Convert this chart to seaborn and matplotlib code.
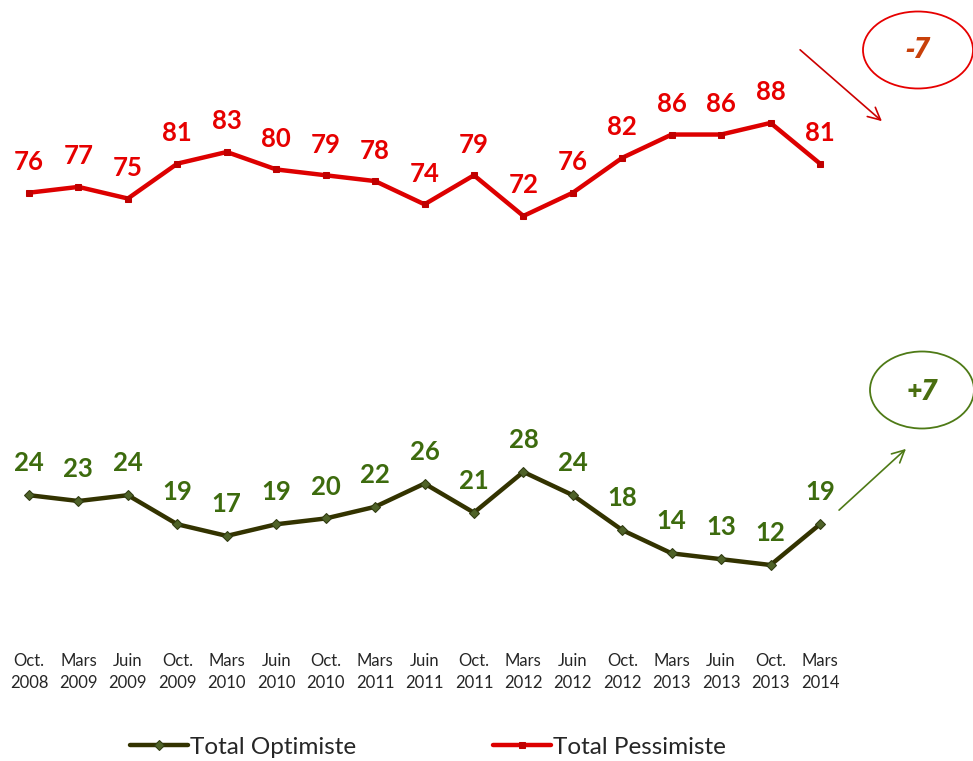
import pandas as pd
import numpy as np
import matplotlib.pyplot as plt
import seaborn as sns
from matplotlib.patches import Ellipse

# Survey waves and totals (in %)
periods = ["Oct.\n2008", "Mars\n2009", "Juin\n2009", "Oct.\n2009", "Mars\n2010", "Juin\n2010",
           "Oct.\n2010", "Mars\n2011", "Juin\n2011", "Oct.\n2011", "Mars\n2012", "Juin\n2012",
           "Oct.\n2012", "Mars\n2013", "Juin\n2013", "Oct.\n2013", "Mars\n2014"]
optimiste = [24, 23, 24, 19, 17, 19, 20, 22, 26, 21, 28, 24, 18, 14, 13, 12, 19]
pessimiste = [76, 77, 75, 81, 83, 80, 79, 78, 74, 79, 72, 76, 82, 86, 86, 88, 81]

df = pd.DataFrame({"x": np.arange(len(periods)), "opt": optimiste, "pess": pessimiste})

sns.set_style("white")
plt.rcParams["font.family"] = ["Lato", "DejaVu Sans"]

W, H = 973, 761
fig = plt.figure(figsize=(W / 100, H / 100), dpi=100)
ax = fig.add_axes([0, (H - 645) / H, 1, 645 / H])

green_line = "#333300"
green_txt = "#3D6B0E"
red_line = "#DD0000"
red_txt = "#E60000"

sns.lineplot(data=df, x="x", y="opt", ax=ax, color=green_line, lw=3.2, marker="D",
             markersize=5, markerfacecolor="#4F6228", markeredgecolor="#2F3A10",
             label="Total Optimiste")
sns.lineplot(data=df, x="x", y="pess", ax=ax, color=red_line, lw=3.2, marker="s",
             markersize=5, markerfacecolor="#C00000", markeredgecolor="#C00000",
             label="Total Pessimiste")

for i, v in enumerate(optimiste):
    ax.annotate(str(v), (i, v), xytext=(0, 23), textcoords="offset points",
                ha="center", va="center", fontsize=18.5, fontweight="bold", color=green_txt)
for i, v in enumerate(pessimiste):
    ax.annotate(str(v), (i, v), xytext=(0, 22), textcoords="offset points",
                ha="center", va="center", fontsize=18.5, fontweight="bold", color=red_txt)

step = (820 - 29) / 16
ax.set_xlim(-29 / step, (W - 29) / step)
scale = 5.817
zero = 565 + 12 * scale
ax.set_ylim((zero - 645) / scale, zero / scale)
ax.set_xticks(df["x"])
ax.set_xticklabels(periods, fontsize=12, linespacing=1.5)
ax.tick_params(axis="x", length=0, pad=5.5)
ax.set_yticks([])
ax.set_xlabel("")
ax.set_ylabel("")
sns.despine(ax=ax, left=True, bottom=True)

handles, labels = ax.get_legend_handles_labels()
ax.get_legend().remove()
fig.legend(handles, labels, loc="center", bbox_to_anchor=(428 / W, 1 - 747 / H), ncol=2,
           frameon=False, fontsize=17.5, handlelength=2.4, handletextpad=0.1, columnspacing=5.6)

# overlay in pixel coordinates for the change callouts
ov = fig.add_axes([0, 0, 1, 1], facecolor="none")
ov.set_xlim(0, W)
ov.set_ylim(H, 0)
ov.axis("off")
ov.add_patch(Ellipse((918, 50), 110, 77, fill=False, edgecolor="#E60000", lw=1.3))
ov.text(918, 51, "-7", ha="center", va="center", fontsize=20, fontweight="bold",
        fontstyle="italic", family=["Open Sans", "DejaVu Sans"], color="#C8400A")
ov.annotate("", xy=(884, 123), xytext=(798, 48),
            arrowprops=dict(arrowstyle="->", color="#CC0000", lw=1.2, mutation_scale=22))
ov.add_patch(Ellipse((922, 390), 104, 77, fill=False, edgecolor="#4E7A16", lw=1.3))
ov.text(922, 393, "+7", ha="center", va="center", fontsize=20, fontweight="bold",
        fontstyle="italic", family=["Open Sans", "DejaVu Sans"], color="#4A6E10")
ov.annotate("", xy=(908, 447), xytext=(837, 512),
            arrowprops=dict(arrowstyle="->", color="#4E7A16", lw=1.2, mutation_scale=22))

fig.savefig("out.png", dpi=100)
